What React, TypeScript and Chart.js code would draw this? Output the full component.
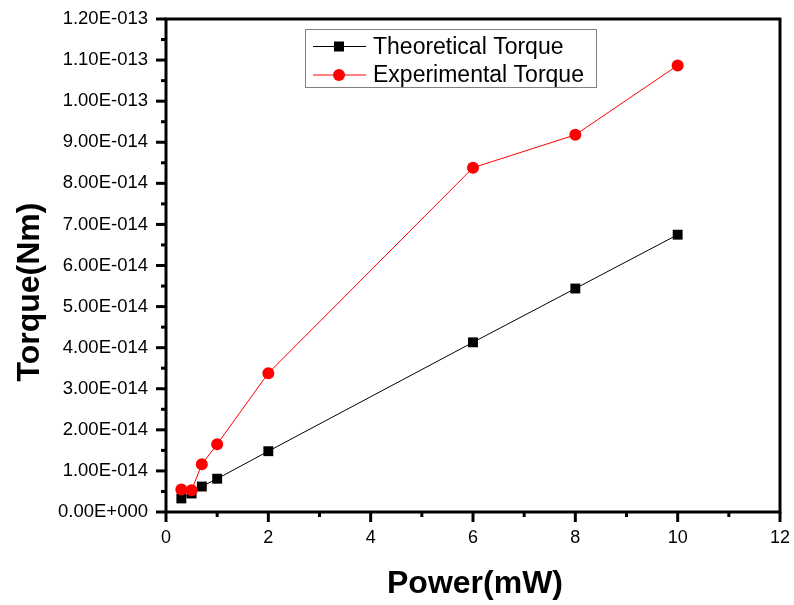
import React, { useEffect, useRef } from 'react';
import { Chart, registerables } from 'chart.js';

Chart.register(...registerables);

// ---- data ----
const powerMW = [0.3, 0.5, 0.7, 1, 2, 6, 8, 10];
const theoreticalTorque = [0.33e-14, 0.45e-14, 0.62e-14, 0.81e-14, 1.48e-14, 4.13e-14, 5.44e-14, 6.75e-14];
const experimentalTorque = [0.55e-14, 0.53e-14, 1.16e-14, 1.65e-14, 3.38e-14, 8.38e-14, 9.18e-14, 10.87e-14];
const seriesNames = ['Theoretical Torque', 'Experimental Torque'];
const yTickLabels = [
  '0.00E+000', '1.00E-014', '2.00E-014', '3.00E-014', '4.00E-014', '5.00E-014', '6.00E-014',
  '7.00E-014', '8.00E-014', '9.00E-014', '1.00E-013', '1.10E-013', '1.20E-013',
];
const xTickLabels = ['0', '2', '4', '6', '8', '10', '12'];
const xTitle = 'Power(mW)';
const yTitle = 'Torque(Nm)';

const FONT = '"Liberation Sans", Arial, Helvetica, sans-serif';

const framePlugin = {
  id: 'originFrame',
  afterDraw(chart: any) {
    const { ctx, chartArea } = chart;
    const { left, right, top, bottom } = chartArea;
    const xs = chart.scales.x;
    const ys = chart.scales.y;
    ctx.save();
    ctx.strokeStyle = '#000';
    ctx.lineWidth = 3;
    ctx.lineCap = 'butt';
    ctx.strokeRect(left, top, right - left, bottom - top);

    // y ticks (major + minor), outward to the left
    const yt = ys.ticks.map((t: any) => t.value);
    for (let i = 0; i < yt.length; i++) {
      const p = ys.getPixelForValue(yt[i]);
      ctx.beginPath();
      ctx.moveTo(left, p);
      ctx.lineTo(left - 10, p);
      ctx.stroke();
      if (i < yt.length - 1) {
        const pm = ys.getPixelForValue((yt[i] + yt[i + 1]) / 2);
        ctx.beginPath();
        ctx.moveTo(left, pm);
        ctx.lineTo(left - 5, pm);
        ctx.stroke();
      }
    }
    // x ticks (major + minor), outward downward
    const xt = xs.ticks.map((t: any) => t.value);
    for (let i = 0; i < xt.length; i++) {
      const p = xs.getPixelForValue(xt[i]);
      ctx.beginPath();
      ctx.moveTo(p, bottom);
      ctx.lineTo(p, bottom + 10);
      ctx.stroke();
      if (i < xt.length - 1) {
        const pm = xs.getPixelForValue((xt[i] + xt[i + 1]) / 2);
        ctx.beginPath();
        ctx.moveTo(pm, bottom);
        ctx.lineTo(pm, bottom + 5);
        ctx.stroke();
      }
    }

    // axis titles
    ctx.fillStyle = '#000';
    ctx.font = `bold 32px ${FONT}`;
    ctx.textAlign = 'center';
    ctx.textBaseline = 'alphabetic';
    ctx.fillText(xTitle, (left + right) / 2 + 2, 593);
    ctx.save();
    ctx.translate(39, 292);
    ctx.rotate(-Math.PI / 2);
    ctx.fillText(yTitle, 0, 0);
    ctx.restore();

    // legend
    const bx = 305, by = 29, bw = 291, bh = 58;
    ctx.fillStyle = '#fff';
    ctx.fillRect(bx, by, bw, bh);
    ctx.strokeStyle = '#808080';
    ctx.lineWidth = 1;
    ctx.strokeRect(bx + 0.5, by + 0.5, bw, bh);
    const rows = [46.5, 75];
    chart.data.datasets.forEach((ds: any, i: number) => {
      const ry = rows[i];
      ctx.strokeStyle = ds.borderColor;
      ctx.lineWidth = 1;
      ctx.beginPath();
      ctx.moveTo(313, ry);
      ctx.lineTo(366, ry);
      ctx.stroke();
      ctx.fillStyle = ds.pointBackgroundColor;
      if (ds.pointStyle === 'rect') {
        ctx.fillRect(339 - 5, ry - 5, 10, 10);
      } else {
        ctx.beginPath();
        ctx.arc(339, ry, 6, 0, Math.PI * 2);
        ctx.fill();
      }
      ctx.fillStyle = '#000';
      ctx.font = `23px ${FONT}`;
      ctx.textAlign = 'left';
      ctx.textBaseline = 'middle';
      ctx.fillText(ds.label, 373, ry + 1);
    });
    ctx.restore();
  },
};

export default function App() {
  const ref = useRef<HTMLCanvasElement | null>(null);
  useEffect(() => {
    if (!ref.current) return;
    const chart = new Chart(ref.current, {
      type: 'scatter',
      data: {
        datasets: [
          {
            label: seriesNames[0],
            data: powerMW.map((x, i) => ({ x, y: theoreticalTorque[i] })),
            showLine: true,
            borderColor: '#000000',
            borderWidth: 1,
            pointStyle: 'rect',
            pointRadius: 7,
            pointBorderWidth: 0,
            pointBackgroundColor: '#000000',
            order: 2,
          },
          {
            label: seriesNames[1],
            data: powerMW.map((x, i) => ({ x, y: experimentalTorque[i] })),
            showLine: true,
            borderColor: '#ff0000',
            borderWidth: 1,
            pointStyle: 'circle',
            pointRadius: 6,
            pointBorderWidth: 0,
            pointBackgroundColor: '#ff0000',
            order: 1,
          },
        ] as any,
      },
      options: {
        responsive: false,
        animation: false,
        layout: { padding: { top: 19, right: 14, left: 0, bottom: 0 } },
        plugins: { legend: { display: false }, tooltip: { enabled: false } },
        scales: {
          x: {
            type: 'linear',
            min: 0,
            max: 12,
            grid: { display: false, drawTicks: false },
            border: { display: false },
            ticks: {
              stepSize: 2,
              padding: 15,
              color: '#000',
              font: { family: FONT, size: 18 },
              maxRotation: 0,
              callback: (_v: any, i: number) => xTickLabels[i],
            },
            afterFit: (s: any) => {
              s.height = 93;
              s.paddingLeft = 0;
              s.paddingRight = 0;
            },
          },
          y: {
            type: 'linear',
            min: 0,
            max: 1.2e-13,
            grid: { display: false, drawTicks: false },
            border: { display: false },
            ticks: {
              stepSize: 1e-14,
              padding: 18,
              color: '#000',
              font: { family: FONT, size: 18.5 },
              callback: (_v: any, i: number) => yTickLabels[i],
            },
            afterFit: (s: any) => {
              s.width = 166;
              s.paddingTop = 0;
              s.paddingBottom = 0;
            },
          },
        },
      } as any,
      plugins: [framePlugin],
    });
    return () => chart.destroy();
  }, []);
  return (
    <div style={{ position: 'absolute', left: 0, top: 0, width: 794, height: 605, background: '#fff' }}>
      <canvas ref={ref} width={794} height={605} style={{ display: 'block' }} />
    </div>
  );
}
